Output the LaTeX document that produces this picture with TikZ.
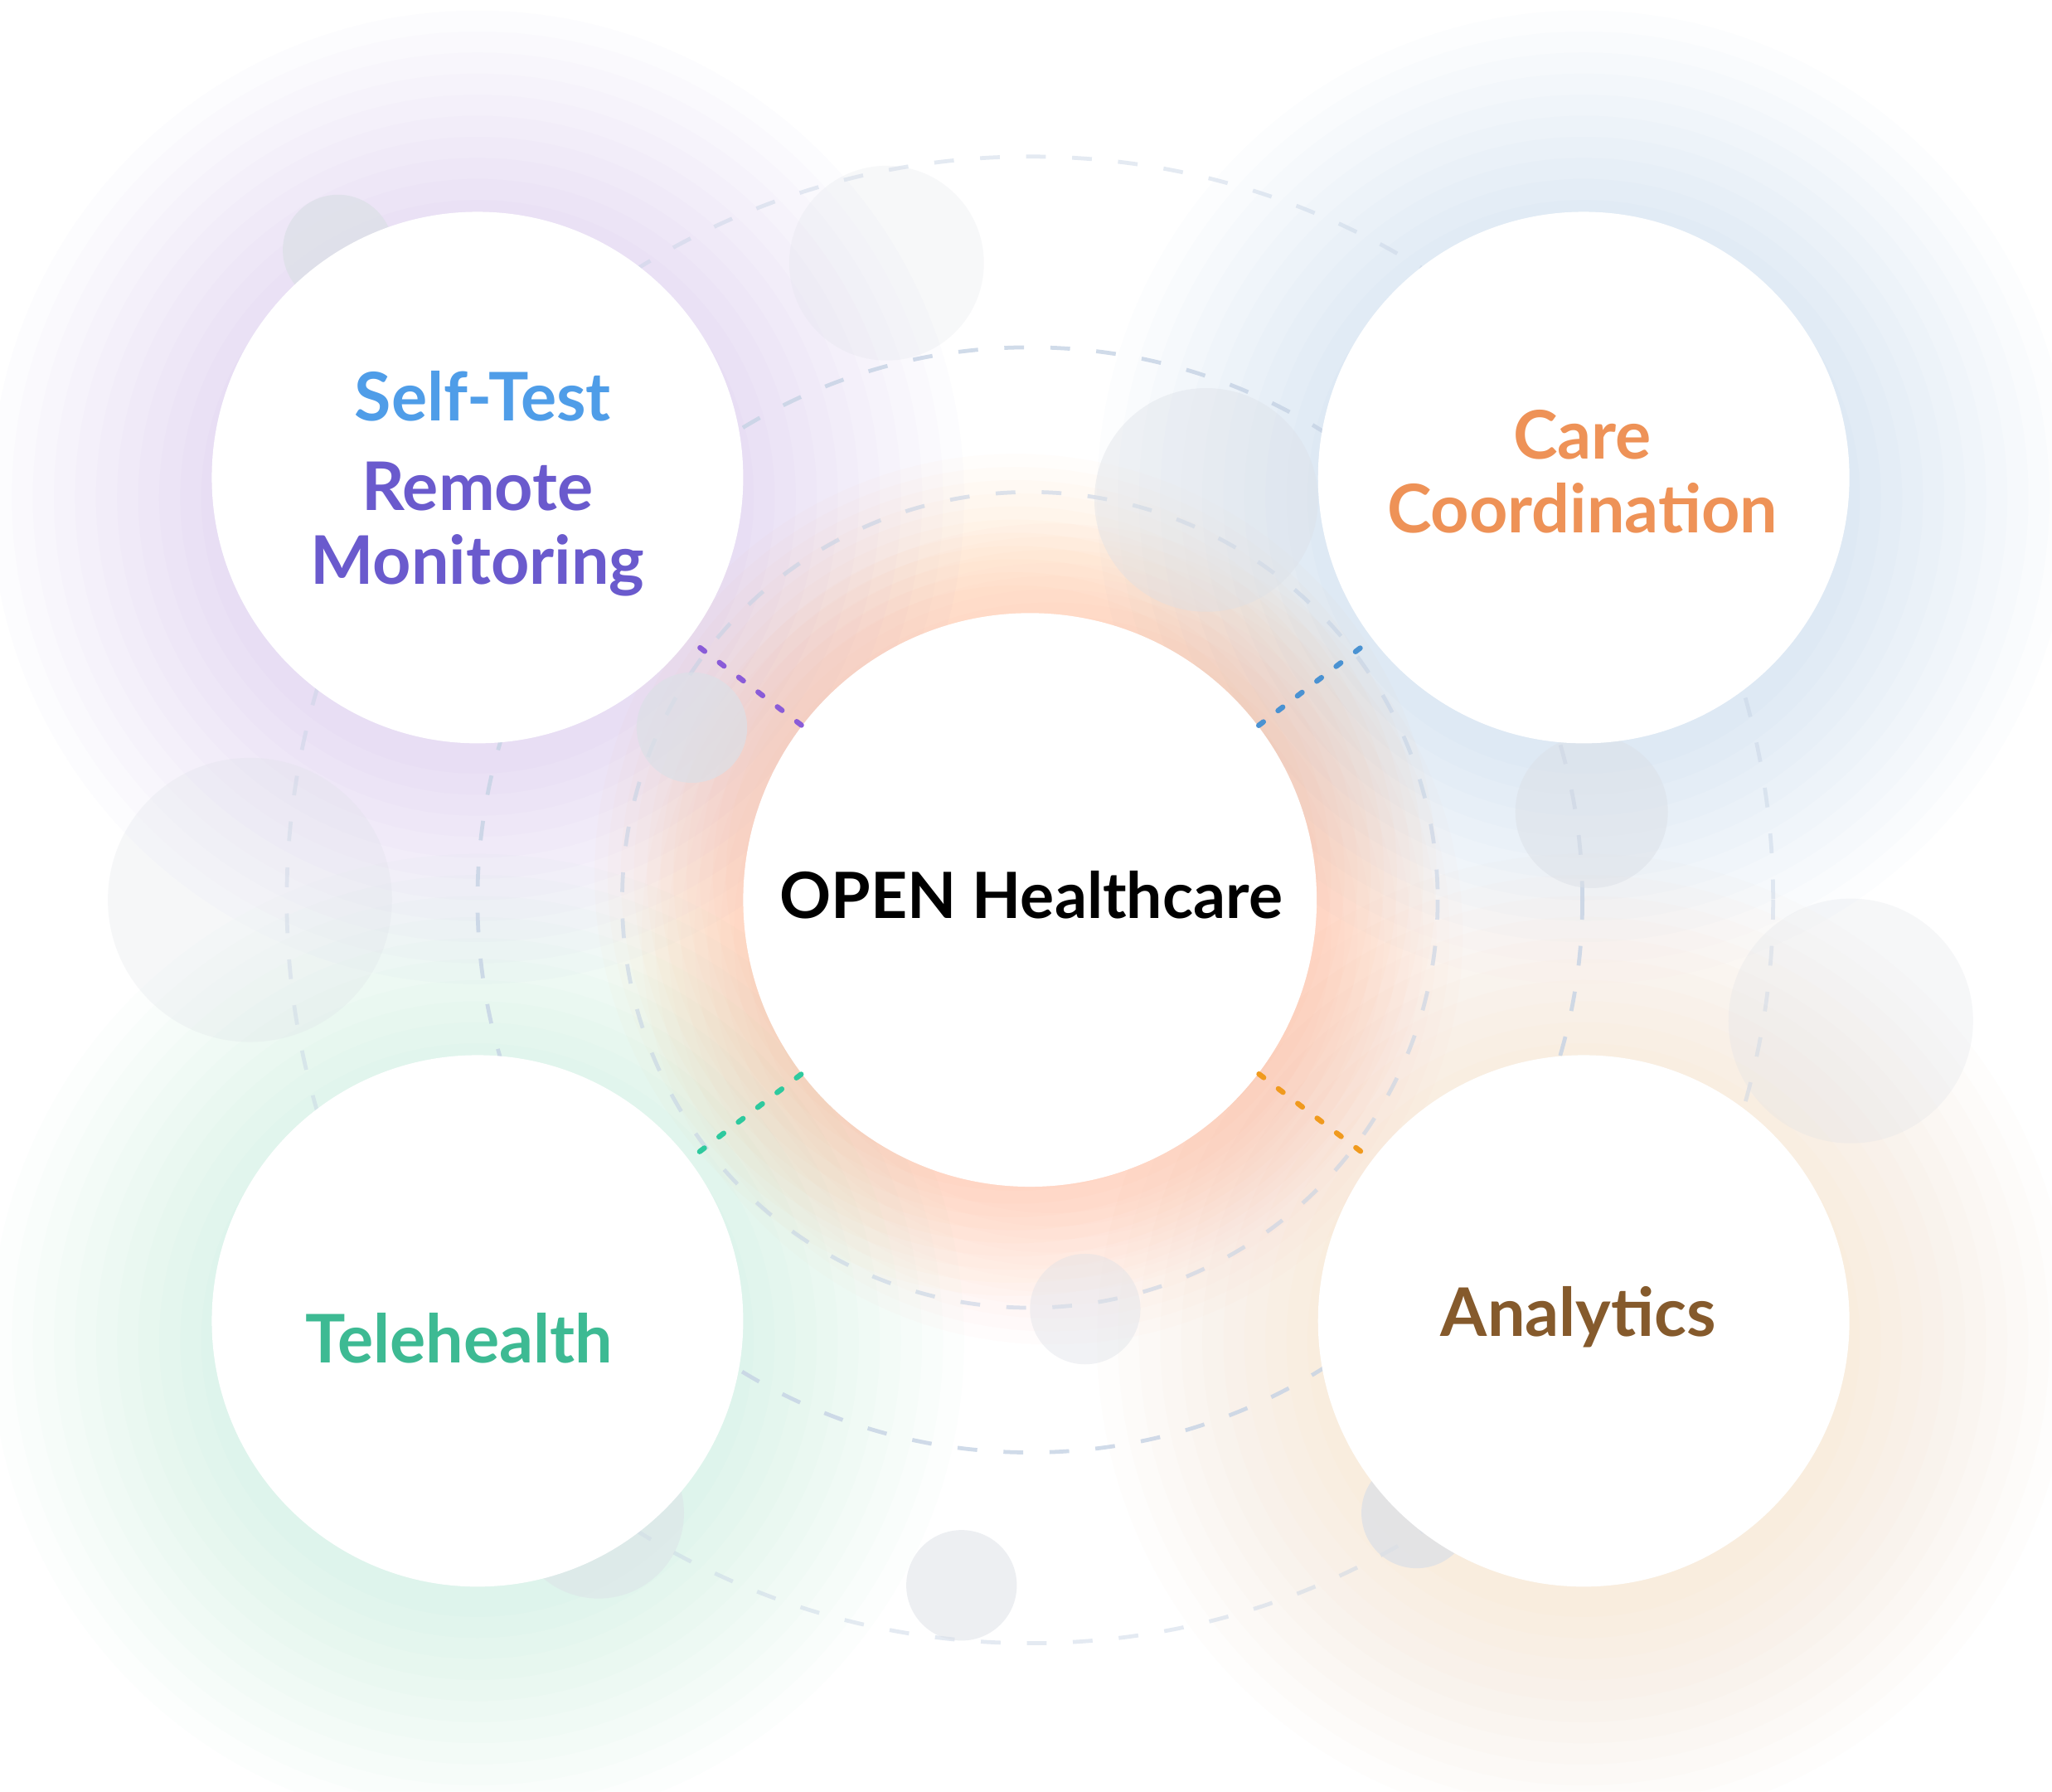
\documentclass[tikz,border=0pt]{standalone}
\usepackage{fontspec}
\setmainfont{Lato}

\definecolor{selfblue}{HTML}{4F9DE8}
\definecolor{remotepurple}{HTML}{6A5ACD}
\definecolor{careorange}{HTML}{EE9257}
\definecolor{teleteal}{HTML}{3DBA93}
\definecolor{anabrown}{HTML}{855A2C}
\definecolor{ringgray}{HTML}{C5D2E4}
\definecolor{bubblegray}{HTML}{DCE0E7}
\definecolor{glowpurple}{HTML}{7E5FE6}
\definecolor{glowblue}{HTML}{4A90E2}
\definecolor{glowteal}{HTML}{2ECC9A}
\definecolor{glowpeach}{HTML}{F9B35A}
\definecolor{gloworange}{HTML}{FFA040}
\definecolor{glowred}{HTML}{FF7A6A}
\definecolor{linkpurple}{HTML}{8A5CD8}
\definecolor{linkblue}{HTML}{4A92D2}
\definecolor{linkteal}{HTML}{2EC99E}
\definecolor{linkorange}{HTML}{F09A1E}

\begin{document}
\begin{tikzpicture}[x=0.1mm, y=-0.1mm,
	hubnode/.style={circle, fill=white, minimum size=43.6mm, inner sep=0pt},
	satnode/.style={circle, fill=white, minimum size=40.4mm, inner sep=0pt},
	satlabel/.style={anchor=base, align=center, font=\fontsize{14.5}{16}\selectfont\bfseries},
	ring/.style={draw=ringgray, line width=0.3mm, dash pattern=on 1.5mm off 2mm},
	bubble/.style={fill=bubblegray},
	link/.style={line width=0.4mm, line cap=round, dash pattern=on 0.45mm off 1.4mm}]

	\fill[white] (0,0) rectangle (1560,1361.5);
	\useasboundingbox (0,0) rectangle (1560,1361.5);

	% soft glows, stacked thin layers
	\foreach \r in {370,354,...,200} {
		\fill[glowpurple, fill opacity=0.015] (363,378) circle (\r);
		\fill[glowblue, fill opacity=0.015] (1204,378) circle (\r);
		\fill[glowteal, fill opacity=0.013] (363,1019) circle (\r);
		\fill[glowpeach, fill opacity=0.016] (1204,1019) circle (\r);
	}
	\foreach \r in {320,310,...,220} {
		\fill[gloworange, fill opacity=0.018] (772,665) circle (\r);
		\fill[glowred, fill opacity=0.016] (800,710) circle (\r-8);
	}

	% dashed orbits
	\draw[ring, draw opacity=0.45] (783,684) circle (565);
	\draw[ring, draw opacity=0.8] (783,684) circle (420);
	\draw[ring, draw opacity=0.6] (783,684) circle (310);

	% bubbles
	\fill[bubble, fill opacity=0.75] (257,190) circle (42);
	\fill[bubble, fill opacity=0.22] (674,200) circle (74);
	\fill[bubble, fill opacity=0.4] (917,380) circle (85);
	\fill[bubble, fill opacity=0.7] (526,553) circle (42);
	\fill[bubble, fill opacity=0.25] (190,684) circle (108);
	\fill[bubble, fill opacity=0.5] (1210,617) circle (58);
	\fill[bubble, fill opacity=0.25] (1407,776) circle (93);
	\fill[bubble, fill opacity=0.4] (825,995) circle (42);
	\fill[bubble, fill opacity=0.5] (731,1205) circle (42);
	\fill[bubble, fill opacity=0.75] (1077,1150) circle (42);
	\fill[bubble, fill opacity=0.45] (455,1150) circle (65);

	\node[hubnode] (hub) at (783,684) {};
	\node[satnode] (selftest) at (363,363) {};
	\node[satnode] (care) at (1204,363) {};
	\node[satnode] (tele) at (363,1004) {};
	\node[satnode] (analytics) at (1204,1004) {};

	\draw[link]
		(hub) edge[linkpurple] (selftest)
		(hub) edge[linkblue] (care)
		(hub) edge[linkteal] (tele)
		(hub) edge[linkorange] (analytics)
		;

	\node[satlabel, font=\fontsize{13.8}{16}\selectfont\bfseries] (hublabel) at (784,698) {OPEN Healthcare};
	\node[satlabel, text=selfblue] (selflabel) at (367,320) {Self-Test};
	\node[satlabel, text=remotepurple] (remotelabel) at (363,444) {Remote\\Monitoring};
	\node[satlabel, text=careorange] (carelabel) at (1203,405) {Care\\Coordination};
	\node[satlabel, text=teleteal] (telelabel) at (349,1036) {Telehealth};
	\node[satlabel, text=anabrown] (analyticslabel) at (1200,1016) {Analytics};
\end{tikzpicture}
\end{document}
